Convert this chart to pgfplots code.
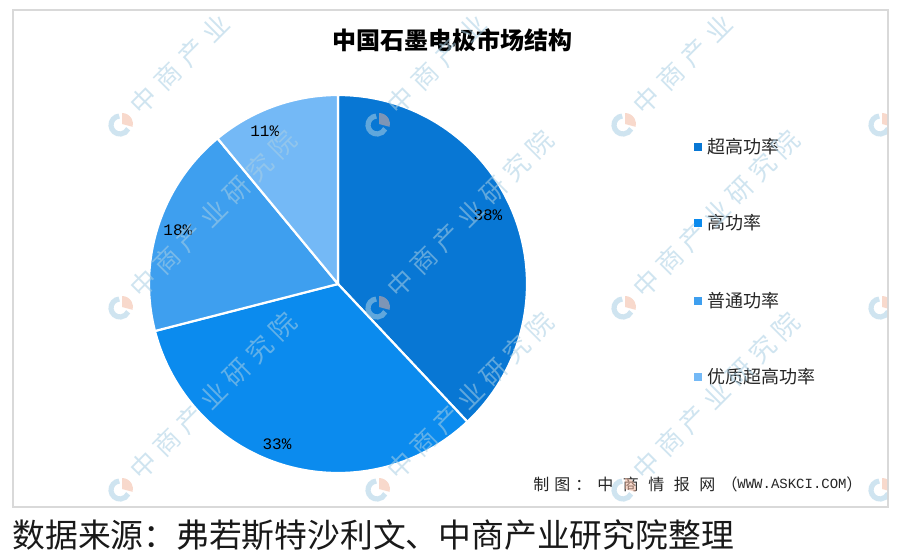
\documentclass[border=0pt]{standalone}
\usepackage{fontspec}
\setmainfont{Noto Sans CJK SC}
\newfontfamily\monof{Liberation Mono}
\usepackage{pgfplots}
\usepackage{pgfplotstable}
\pgfplotsset{compat=1.18}
\usetikzlibrary{calc}

\definecolor{c1}{HTML}{0877D4}
\definecolor{c2}{HTML}{0B8BEE}
\definecolor{c3}{HTML}{3E9FEF}
\definecolor{c4}{HTML}{74B9F6}
\definecolor{frame}{HTML}{D9D9D9}
\definecolor{txt}{HTML}{262626}
\definecolor{wmb}{HTML}{A9CFE4}
\definecolor{wmo}{HTML}{F2B49A}

% share of each grade, % (lang/lr: where the percent label sits)
\pgfplotstableread{
label value color ly lang lr
超高功率 38 c1 411 24.7 82.5
高功率 33 c2 335 -110.9 85.5
普通功率 18 c3 257 161.4 84.5
优质超高功率 11 c4 181 115.7 84.5
}\piedata

\newcommand\wmlogo[2]{%
  \draw[wmb, line width=2.6pt, opacity=0.55] (#1,#2) ++(95:9) arc[start angle=95, end angle=335, radius=9];
  \fill[wmo, opacity=0.5] (#1+2,#2+1) -- ++(90:11) arc[start angle=90, end angle=-15, radius=11] -- cycle;}
\newcommand\wmtext[3]{%
  \node[rotate=45, anchor=west, inner sep=0pt, text=wmb, opacity=0.55,
        font=\fontsize{13pt}{14pt}\selectfont] at (#1+14.5,#2+15.5) {#3};}

\begin{document}
\begin{tikzpicture}
\begin{axis}[
    width=450pt, height=279pt, scale only axis,
    xmin=0, xmax=900, ymin=0, ymax=558,
    hide axis, clip=false
]
\path[fill=white] (axis cs:0,0) rectangle (axis cs:900,558);
\draw[frame, line width=0.8pt] (axis cs:13,51) rectangle (axis cs:888,548);

\node[font=\fontsize{12pt}{14pt}\selectfont\bfseries, text=black] at (axis cs:452,518) {中国石墨电极市场结构};

\def\angstart{90}
\pgfplotsforeachungrouped \i in {0,...,3}{
    \pgfplotstablegetelem{\i}{value}\of\piedata \let\v\pgfplotsretval
    \pgfplotstablegetelem{\i}{color}\of\piedata \let\c\pgfplotsretval
    \pgfplotstablegetelem{\i}{label}\of\piedata \let\lab\pgfplotsretval
    \pgfplotstablegetelem{\i}{ly}\of\piedata \let\ly\pgfplotsretval
    \pgfplotstablegetelem{\i}{lang}\of\piedata \let\la\pgfplotsretval
    \pgfplotstablegetelem{\i}{lr}\of\piedata \let\lr\pgfplotsretval
    \pgfmathsetmacro\angend{\angstart-3.6*\v}
    \edef\temp{%
      \noexpand\fill[\c, draw=white, line width=1.1pt, line join=round]
        (axis cs:338,274) -- ++(\angstart:94.5pt)
        arc[start angle=\angstart, end angle=\angend, radius=94.5pt] -- cycle;
      \noexpand\node[font=\noexpand\monof\noexpand\fontsize{8pt}{9pt}\noexpand\selectfont, text=black]
        at ($(axis cs:338,274)+(\la:\lr pt)$) {\v\noexpand\%};
      \noexpand\fill[\c] (axis cs:694,\ly-4) rectangle (axis cs:702,\ly+4);
      \noexpand\node[anchor=west, inner sep=0pt, font=\noexpand\fontsize{9pt}{10pt}\noexpand\selectfont, text=txt]
        at (axis cs:707,\ly) {\lab};
    }%
    \temp
    \let\angstart\angend
}

\node[anchor=west, inner sep=0pt, font=\fontsize{8pt}{9pt}\selectfont, text=txt] at (axis cs:533,74) {\makebox[29pt][l]{制\hfill 图\hfill ：}};
\node[anchor=west, inner sep=0pt, font=\fontsize{8pt}{9pt}\selectfont, text=txt] at (axis cs:597,74) {\makebox[59pt]{中\hfill 商\hfill 情\hfill 报\hfill 网}};
\node[anchor=east, inner sep=0pt, font=\fontsize{8pt}{9pt}\selectfont, text=txt] at (axis cs:738,74) {（};
\node[anchor=west, inner sep=0pt, font=\monof\fontsize{7pt}{9pt}\selectfont, text=txt] at (axis cs:737,74) {WWW.ASKCI.COM};
\node[anchor=west, inner sep=0pt, font=\fontsize{8pt}{9pt}\selectfont, text=txt] at (axis cs:846,74) {）};

\node[anchor=west, inner sep=0pt, font=\fontsize{16.4pt}{18pt}\selectfont, text=black!90] at (axis cs:12,23) {数据来源：弗若斯特沙利文、中商产业研究院整理};
\end{axis}

% watermark pattern, 1 unit = 1 px of the 900x558 frame
\begin{scope}[x=0.5pt, y=0.5pt]
\clip (14,52) rectangle (887,547);
\foreach \lx in {120,377,623,880}{
  \foreach \ly in {433,250,68}{\wmlogo{\lx}{\ly}}
}
\foreach \lx in {120,377,623}{
  \foreach \ly in {250,68}{
    \wmtext{\lx}{\ly}{\makebox[111pt]{中\hfill 商\hfill 产\hfill 业\hfill 研\hfill 究\hfill 院}}
  }
  \wmtext{\lx}{433}{\makebox[63.4pt]{中\hfill 商\hfill 产\hfill 业}}
}
\end{scope}
\end{tikzpicture}
\end{document}
